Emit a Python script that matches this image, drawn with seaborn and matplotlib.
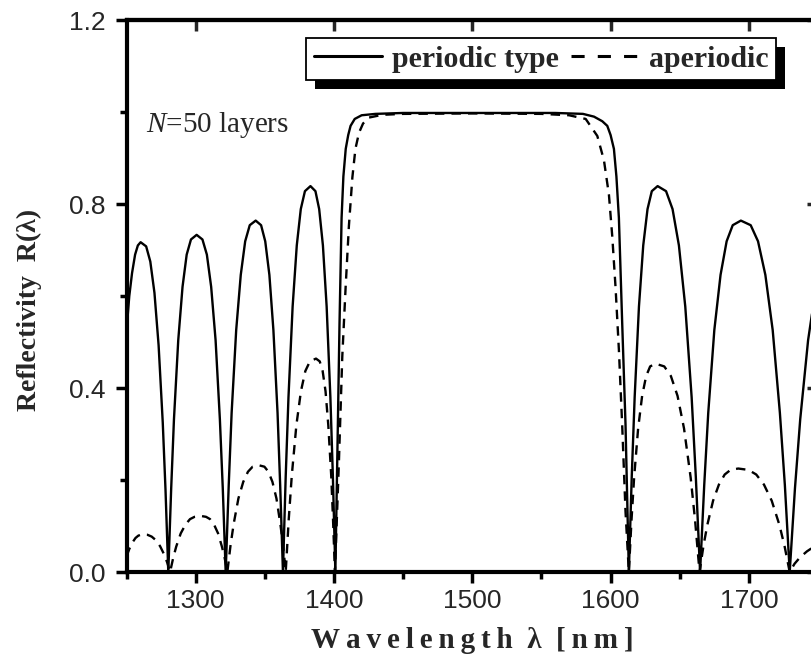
import matplotlib
matplotlib.use("Agg")
import pandas as pd
import matplotlib.pyplot as plt
import seaborn as sns
from matplotlib.patches import Rectangle
from matplotlib.ticker import MultipleLocator, FormatStrFormatter

# reflectivity of the periodic stack (solid curve)
wl_periodic = [1250.0, 1252.0, 1254.0, 1256.2, 1258.2, 1260.2,
               1264.2, 1267.2, 1270.2, 1273.2, 1276.2, 1278.2, 1280.2,
               1282.3, 1284.3, 1287.4, 1290.5, 1293.5, 1296.6, 1300.7,
               1304.9, 1308.1, 1311.2, 1314.4, 1317.5, 1319.6, 1321.7,
               1323.9, 1326.0, 1329.3, 1332.6, 1335.8, 1339.1, 1343.4,
               1347.3, 1350.3, 1353.3, 1356.2, 1359.2, 1361.1, 1363.1,
               1365.1, 1367.1, 1370.1, 1373.1, 1376.0, 1379.0, 1383.0,
               1386.6, 1389.3, 1392.0, 1394.7, 1397.4, 1399.2, 1401.0,
               1402.8, 1404.0, 1405.5, 1406.8, 1408.5, 1410.3, 1412.0, 1415.0, 1420.0, 1430.0,
               1450.0, 1500.0, 1560.0, 1580.0, 1588.0, 1594.0, 1597.6, 1600.0, 1602.4, 1604.2,
               1606.0, 1608.4, 1610.8, 1613.2,
               1615.3, 1617.4, 1620.5, 1623.6, 1626.7, 1629.8, 1634.0,
               1640.1, 1644.8, 1649.4, 1654.0, 1658.6, 1661.6, 1664.7,
               1667.7, 1670.6, 1675.0, 1679.5, 1683.9, 1688.3, 1694.2,
               1701.3, 1706.6, 1711.9, 1717.2, 1722.4, 1726.0, 1729.5,
               1733.3, 1737.1, 1742.8, 1748.5, 1750.0]
r_periodic = [0.525, 0.600, 0.650, 0.690, 0.710, 0.717,
              0.708, 0.675, 0.607, 0.493, 0.325, 0.178, 0.0,
              0.182, 0.332, 0.504, 0.620, 0.690, 0.723, 0.733,
              0.723, 0.690, 0.620, 0.504, 0.332, 0.182, 0.0,
              0.189, 0.346, 0.526, 0.646, 0.719, 0.754, 0.764,
              0.754, 0.719, 0.646, 0.526, 0.346, 0.189, 0.0,
              0.208, 0.380, 0.577, 0.710, 0.789, 0.828, 0.839,
              0.828, 0.789, 0.710, 0.577, 0.380, 0.208, 0.0,
              0.320, 0.540, 0.770, 0.860, 0.920, 0.950, 0.970, 0.985, 0.993, 0.996,
              0.998, 0.998, 0.998, 0.996, 0.990, 0.980, 0.970, 0.950, 0.920, 0.860,
              0.770, 0.540, 0.320, 0.0,
              0.208, 0.380, 0.577, 0.710, 0.789, 0.828, 0.839,
              0.828, 0.789, 0.710, 0.577, 0.380, 0.208, 0.0,
              0.189, 0.346, 0.526, 0.646, 0.719, 0.754, 0.764,
              0.754, 0.719, 0.646, 0.526, 0.346, 0.189, 0.0,
              0.182, 0.332, 0.504, 0.620, 0.640]

# reflectivity of the aperiodic stack (dashed curve)
wl_aperiodic = [1250.0, 1252.0, 1254.0, 1256.5, 1258.5, 1261.0,
                1265.1, 1268.2, 1271.3, 1274.3, 1277.4, 1279.5, 1281.5,
                1283.7, 1285.9, 1289.2, 1292.6, 1295.9, 1299.2, 1303.6,
                1307.5, 1310.4, 1313.3, 1316.2, 1319.0, 1321.0, 1322.9,
                1325.2, 1327.5, 1330.9, 1334.4, 1337.8, 1341.2, 1345.8,
                1349.7, 1352.6, 1355.5, 1358.4, 1361.2, 1363.2, 1365.1,
                1367.3, 1369.5, 1372.8, 1376.1, 1379.3, 1382.6, 1387.0,
                1389.7, 1391.8, 1393.9, 1395.9, 1398.0, 1399.3, 1400.7,
                1403.6, 1406.0, 1408.4, 1410.8, 1413.3, 1415.5, 1418.1, 1421.0, 1425.3, 1435.0,
                1450.0, 1500.0, 1550.0, 1570.0, 1582.0, 1590.4, 1595.2, 1598.8, 1601.2, 1603.6,
                1606.0, 1608.4, 1610.8, 1613.2,
                1615.1, 1617.0, 1619.9, 1622.8, 1625.7, 1628.6, 1632.4,
                1638.8, 1643.6, 1648.4, 1653.1, 1657.9, 1661.1, 1664.3,
                1667.1, 1669.9, 1674.1, 1678.3, 1682.5, 1686.7, 1692.3,
                1699.7, 1705.3, 1710.9, 1716.5, 1722.1, 1725.8, 1729.5,
                1733.0, 1737.0, 1742.0, 1746.0, 1750.0]
r_aperiodic = [0.034, 0.050, 0.063, 0.074, 0.079, 0.082,
               0.081, 0.077, 0.069, 0.056, 0.037, 0.020, 0.0,
               0.030, 0.055, 0.084, 0.103, 0.115, 0.120, 0.122,
               0.120, 0.115, 0.103, 0.084, 0.055, 0.030, 0.0,
               0.058, 0.105, 0.160, 0.196, 0.218, 0.229, 0.232,
               0.229, 0.218, 0.196, 0.160, 0.105, 0.058, 0.0,
               0.115, 0.210, 0.319, 0.393, 0.437, 0.458, 0.464,
               0.458, 0.437, 0.393, 0.319, 0.210, 0.115, 0.0,
               0.243, 0.468, 0.618, 0.753, 0.858, 0.920, 0.955, 0.975, 0.988, 0.994,
               0.996, 0.997, 0.996, 0.993, 0.985, 0.948, 0.895, 0.820, 0.730, 0.618,
               0.483, 0.318, 0.131, 0.0,
               0.112, 0.205, 0.312, 0.383, 0.426, 0.447, 0.453,
               0.447, 0.426, 0.383, 0.312, 0.205, 0.112, 0.0,
               0.056, 0.102, 0.155, 0.190, 0.212, 0.222, 0.225,
               0.222, 0.212, 0.190, 0.155, 0.102, 0.056, 0.0,
               0.018, 0.032, 0.045, 0.053, 0.058]

series_names = ["periodic type", "aperiodic"]
x_ticks = [1300, 1400, 1500, 1600, 1700]
y_ticks = [0.0, 0.4, 0.8, 1.2]

sns.set_style("ticks")
plt.rcParams["font.family"] = ["Liberation Sans", "DejaVu Sans"]
plt.rcParams["mathtext.fontset"] = "custom"
plt.rcParams["mathtext.rm"] = "Liberation Serif"
plt.rcParams["mathtext.it"] = "Liberation Serif:italic"

frame = pd.concat([
    pd.DataFrame({"wl": wl_periodic, "R": r_periodic, "type": series_names[0]}),
    pd.DataFrame({"wl": wl_aperiodic, "R": r_aperiodic, "type": series_names[1]}),
], ignore_index=True)

fig = plt.figure(figsize=(8.11, 6.66), dpi=100)
# right spine sits just outside the picture, as in the original
ax = fig.add_axes([0.156, 0.1411, 0.8527, 0.8288])

sns.lineplot(data=frame, x="wl", y="R", hue="type", style="type",
             palette=["black", "black"],
             dashes={series_names[0]: "", series_names[1]: (4, 3)},
             estimator=None, linewidth=1.7, ax=ax)

ax.set_xlim(1250, 1750)
ax.set_ylim(0, 1.2)
ax.set_xticks(x_ticks)
ax.set_yticks(y_ticks)
ax.xaxis.set_minor_locator(MultipleLocator(50))
ax.yaxis.set_minor_locator(MultipleLocator(0.2))
ax.yaxis.set_major_formatter(FormatStrFormatter("%.1f"))

ax.tick_params(which="major", direction="out", length=8, width=2.5, labelsize=19,
               top=False, right=False, color="black")
ax.tick_params(which="minor", direction="out", length=5, width=2.5,
               top=False, right=False, color="black")
ax.tick_params(axis="x", pad=4)
ax.tick_params(axis="y", pad=7)

for s in ax.spines.values():
    s.set_linewidth(3)
    s.set_color("black")

top = ax.secondary_xaxis("top")
top.set_xticks(x_ticks)
top.tick_params(direction="in", length=8, width=2.5, labeltop=False)
top.spines["top"].set_linewidth(3)

right = ax.secondary_yaxis("right")
right.set_yticks(y_ticks)
right.yaxis.set_minor_locator(MultipleLocator(0.2))
right.tick_params(which="major", direction="in", length=8, width=2.5, labelright=False)
right.tick_params(which="minor", direction="in", length=5, width=2.5, labelright=False)
right.spines["right"].set_linewidth(3)

serif = ["Liberation Serif", "DejaVu Serif"]
ax.set_xlabel("W\u2009a\u2009v\u2009e\u2009l\u2009e\u2009n\u2009g\u2009t\u2009h  \u03bb  [\u2009n\u2009m\u2009]",
              fontsize=21, fontweight="bold", family=serif)
ax.set_ylabel("Reflectivity  R(\u03bb)", fontsize=20, fontweight="bold", family=serif)
ax.xaxis.set_label_coords(0.5, -0.1)
ax.yaxis.set_label_coords(-0.122, 0.475)

ax.text(0.028, 0.81, "$N$=50 layers", transform=ax.transAxes, fontsize=21,
        family="Liberation Serif", va="center", ha="left")

handles, labels = ax.get_legend_handles_labels()
leg = ax.legend(handles, labels, ncol=2, loc="upper left",
                bbox_to_anchor=(0.2596, 0.9674), borderaxespad=0,
                frameon=True, fancybox=False, framealpha=1, edgecolor="black",
                borderpad=0.25, handlelength=2.3, handletextpad=0.32,
                columnspacing=0.4,
                prop={"family": "Liberation Serif", "weight": "bold", "size": 21.5})
leg.get_frame().set_linewidth(1.3)
for h in leg.get_lines():
    h.set_linewidth(2.2)
leg.get_lines()[1].set_dashes([4.3, 4.3])

# black drop shadow of the legend box
fig.canvas.draw()
bb = leg.get_frame().get_window_extent(fig.canvas.get_renderer())
inv = ax.transAxes.inverted()
(x0, y0), (x1, y1) = inv.transform([[bb.x0 + 9, bb.y0 - 9], [bb.x1 + 9, bb.y1 - 9]])
ax.add_patch(Rectangle((x0, y0), x1 - x0, y1 - y0, transform=ax.transAxes,
                       facecolor="black", edgecolor="none", zorder=4.9, clip_on=False))

fig.savefig("out.png", dpi=100)
